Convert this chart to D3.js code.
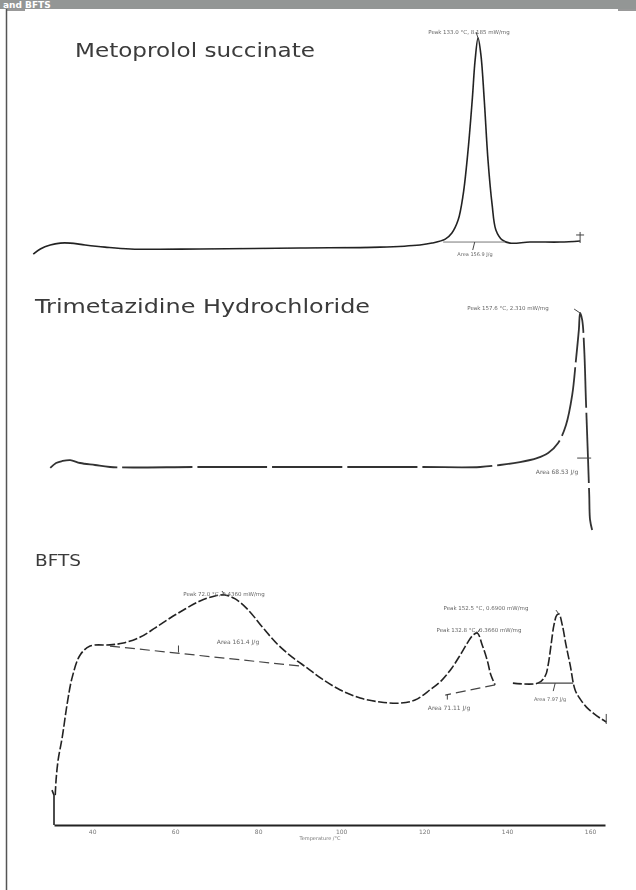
<!DOCTYPE html>
<html>
<head>
<meta charset="utf-8">
<script src="https://cdn.jsdelivr.net/npm/d3@7"></script>
<style>
  body { margin: 0; background: #fff; }
  text { font-family: "DejaVu Sans", sans-serif; }
</style>
</head>
<body>
<div id="chart"></div>
<script>
// Metoprolol succinate trace (temperature degC / heat flow a.u.)
var metoTemp = [25.8, 27.5, 29.9, 32.3, 34.7, 38.3, 43.1, 49.2, 66.0, 90.1, 109.4, 119.0, 121.9, 125.1, 126.7, 128.2, 129.4, 130.6, 131.6, 132.3, 133.0, 133.7, 134.5, 135.4, 136.4, 137.3, 138.8, 140.7, 145.5, 152.8, 157.6];
var metoFlow = [-0.24, 0, 0.19, 0.28, 0.28, 0.19, 0.09, 0, 0, 0.05, 0.09, 0.19, 0.28, 0.47, 0.76, 1.37, 2.56, 4.69, 7.06, 8.96, 10.0, 9.19, 7.06, 4.22, 2.09, 0.9, 0.43, 0.28, 0.33, 0.33, 0.38];

// Trimetazidine hydrochloride trace
var trimTemp = [29.9, 31.3, 32.8, 34.7, 37.1, 40.7, 44.3, 66.0, 90.1, 119.0, 133.5, 138.3, 143.1, 147.2, 149.9, 152.3, 154.2, 155.7, 156.6, 157.3, 157.6, 158.1, 158.6, 159.0, 159.5, 159.8, 160.0, 160.5];
var trimFlow = [-0.06, 0.26, 0.39, 0.45, 0.26, 0.13, 0, 0, 0, 0, 0, 0.13, 0.32, 0.58, 0.91, 1.56, 2.73, 4.68, 6.95, 8.9, 10.0, 9.55, 7.6, 4.35, 0.58, -1.82, -3.44, -4.09];

// BFTS trace, first part (two broad peaks)
var bftsTemp = [31.1, 31.3, 31.8, 32.8, 34.0, 35.2, 37.1, 39.5, 44.3, 47.5, 51.6, 55.2, 58.8, 62.4, 66.0, 69.6, 72.0, 74.5, 77.6, 81.0, 84.6, 88.2, 91.8, 95.4, 99.8, 104.6, 109.4, 114.2, 117.8, 121.4, 124.3, 126.7, 128.7, 130.4, 131.6, 132.8, 134.0, 135.2, 136.1, 137.1];
var bftsFlow = [1.30, 1.96, 2.83, 3.83, 5.30, 6.43, 7.39, 7.78, 7.83, 7.91, 8.17, 8.57, 9.0, 9.39, 9.74, 9.96, 10.0, 9.83, 9.35, 8.61, 7.87, 7.30, 6.83, 6.35, 5.87, 5.52, 5.35, 5.30, 5.43, 5.87, 6.30, 6.83, 7.39, 7.91, 8.22, 8.35, 7.83, 7.17, 6.52, 6.09];
// BFTS trace, second part (sharp peak)
var bftsTemp2 = [141.4, 147.5, 149.2, 149.9, 150.6, 151.3, 152.0, 152.5, 153.3, 154.2, 155.2, 156.4, 157.8, 159.3, 161.0, 162.4, 163.9];
var bftsFlow2 = [6.17, 6.17, 6.48, 6.96, 7.83, 8.70, 9.13, 9.17, 8.70, 7.83, 6.96, 5.87, 5.43, 5.09, 4.83, 4.65, 4.48];

// integration baselines [temp, flow]
var metoBase = [[124.6, 0.33], [139.5, 0.33]];
var bftsBase1 = [[44.3, 7.78], [90.1, 6.91]];
var bftsBase2 = [[137.1, 6.09], [125.1, 5.65]];
var bftsBase3 = [[147.5, 6.17], [155.9, 6.17]];

var tickValues = [40, 60, 80, 100, 120, 140, 160];
var titles = ["Metoprolol succinate", "Trimetazidine Hydrochloride", "BFTS"];

var svg = d3.select("#chart")
  .append("svg")
  .attr("width", 636)
  .attr("height", 890);

// slight blur, the source is a scanned figure
var defs = svg.append("defs");
defs.append("filter").attr("id", "soft")
  .append("feGaussianBlur").attr("stdDeviation", 0.45);

// grey caption bar and frame
svg.append("rect").attr("x", 0).attr("y", 0).attr("width", 636).attr("height", 9).attr("fill", "#939695");
svg.append("text").attr("x", 3).attr("y", 8)
  .attr("font-size", "9px").attr("font-weight", "bold").attr("fill", "#fff")
  .text("and BFTS");
svg.append("line").attr("x1", 6.5).attr("x2", 6.5).attr("y1", 9).attr("y2", 890)
  .attr("stroke", "#555").attr("stroke-width", 1.5);
svg.append("line").attr("x1", 6).attr("x2", 25).attr("y1", 10).attr("y2", 10)
  .attr("stroke", "#555").attr("stroke-width", 1.2);
svg.append("line").attr("x1", 618).attr("x2", 636).attr("y1", 10).attr("y2", 10)
  .attr("stroke", "#555").attr("stroke-width", 1.2);

var g = svg.append("g").attr("filter", "url(#soft)");

// shared temperature scale
var x = d3.scaleLinear()
  .domain([30.8, 163.6])
  .range([54, 605]);

// one heat-flow scale per trace
var y1 = d3.scaleLinear().domain([0, 10]).range([249, 38]);
var y2 = d3.scaleLinear().domain([0, 10]).range([467, 313]);
var y3 = d3.scaleLinear().domain([0, 10]).range([825, 595]);

function lineFor(y) {
  return d3.line()
    .x(function(d) { return x(d[0]); })
    .y(function(d) { return y(d[1]); })
    .curve(d3.curveCatmullRom);
}

// titles
g.append("text").attr("x", 75).attr("y", 57).attr("font-size", "19px").attr("fill", "#3a3a3a")
  .attr("textLength", 240).attr("lengthAdjust", "spacingAndGlyphs").text(titles[0]);
g.append("text").attr("x", 35).attr("y", 313).attr("font-size", "19px").attr("fill", "#3a3a3a")
  .attr("textLength", 335).attr("lengthAdjust", "spacingAndGlyphs").text(titles[1]);
g.append("text").attr("x", 35).attr("y", 566).attr("font-size", "15px").attr("fill", "#3a3a3a")
  .attr("textLength", 46).attr("lengthAdjust", "spacingAndGlyphs").text(titles[2]);

// Metoprolol curve
g.append("path")
  .datum(d3.zip(metoTemp, metoFlow))
  .attr("d", lineFor(y1))
  .attr("fill", "none").attr("stroke", "#222").attr("stroke-width", 1.6);
g.append("path")
  .datum(metoBase)
  .attr("d", lineFor(y1))
  .attr("fill", "none").attr("stroke", "#777").attr("stroke-width", 1);

// Trimetazidine curve
g.append("path")
  .datum(d3.zip(trimTemp, trimFlow))
  .attr("d", lineFor(y2))
  .attr("fill", "none").attr("stroke", "#333").attr("stroke-width", 1.8)
  .attr("stroke-dasharray", "70,5");

// BFTS curves
g.append("path")
  .datum(d3.zip(bftsTemp, bftsFlow))
  .attr("d", lineFor(y3))
  .attr("fill", "none").attr("stroke", "#222").attr("stroke-width", 1.6)
  .attr("stroke-dasharray", "9,2.5");
g.append("path")
  .datum(d3.zip(bftsTemp2, bftsFlow2))
  .attr("d", lineFor(y3))
  .attr("fill", "none").attr("stroke", "#222").attr("stroke-width", 1.6)
  .attr("stroke-dasharray", "9,2.5");
[bftsBase1, bftsBase2, bftsBase3].forEach(function(b, i) {
  g.append("path")
    .datum(b)
    .attr("d", lineFor(y3))
    .attr("fill", "none").attr("stroke", "#444").attr("stroke-width", 1.2)
    .attr("stroke-dasharray", i == 2 ? null : "10,5");
});

// little markers: curve ends and peak ticks
function tick(xv, yv, dx1, dy1, dx2, dy2) {
  g.append("line")
    .attr("x1", xv + dx1).attr("y1", yv + dy1)
    .attr("x2", xv + dx2).attr("y2", yv + dy2)
    .attr("stroke", "#444").attr("stroke-width", 1);
}
tick(x(157.6), y1(0.38), 0, -9, 0, 2);
tick(x(157.6), y1(0.38), -4, -6, 4, -6);
tick(x(133.0), y1(10), -2, -6, 0, 0);
tick(x(132.2), y1(0.33), 0, 0, -2, 8);
tick(x(159.3), y2(0.58), -10, 0, 4, 0);
tick(x(157.6), y2(10), -6, -4, 0, 0);
tick(x(163.9), y3(4.48), 0, -8, 0, 2);
tick(x(72.0), y3(10), -3, -4, 0, 0);
tick(x(132.8), y3(8.35), 3, -4, 0, 0);
tick(x(152.5), y3(9.17), -3, -4, 0, 0);
tick(x(125.6), y3(5.67), 0, 0, 0, 5);
tick(x(60.8), y3(7.5), 0, 0, 0, -7);
tick(x(151.6), y3(6.17), 0, 0, -2, 8);

// stub on the left of BFTS trace
g.append("path")
  .attr("d", "M" + x(30.8) + "," + y3(0) + "V" + y3(1.3) + "l-2,-5")
  .attr("fill", "none").attr("stroke", "#222").attr("stroke-width", 1.6);

// peak / area annotations
var notes = [
  [469, 34, "Peak 133.0 °C, 8.185 mW/mg", 5.5],
  [475, 256, "Area 156.9 J/g", 5],
  [508, 310, "Peak 157.6 °C, 2.310 mW/mg", 5.5],
  [557, 474, "Area 68.53 J/g", 6],
  [224, 596, "Peak 72.0 °C, 0.4360 mW/mg", 5.5],
  [238, 644, "Area 161.4 J/g", 6],
  [486, 610, "Peak 152.5 °C, 0.6900 mW/mg", 5.5],
  [479, 632, "Peak 132.8 °C, 0.3660 mW/mg", 5.5],
  [449, 710, "Area 71.11 J/g", 6],
  [550, 701, "Area 7.97 J/g", 5]
];
g.selectAll(".note")
  .data(notes)
  .enter()
  .append("text")
  .attr("class", "note")
  .attr("x", function(d) { return d[0]; })
  .attr("y", function(d) { return d[1]; })
  .attr("text-anchor", "middle")
  .attr("font-size", function(d) { return d[3] + "px"; })
  .attr("fill", "#666")
  .text(function(d) { return d[2]; });

// temperature axis
var xAxis = g.append("g")
  .attr("transform", "translate(0,825)")
  .call(d3.axisBottom(x).tickValues(tickValues).tickSize(0).tickPadding(5));
xAxis.select(".domain").attr("stroke", "#222").attr("stroke-width", 2.2);
xAxis.selectAll("text").attr("font-size", "6px").attr("fill", "#777");

g.append("text")
  .attr("text-anchor", "middle")
  .attr("x", 320)
  .attr("y", 840)
  .attr("font-size", "5px")
  .attr("fill", "#777")
  .text("Temperature /°C");
</script>
</body>
</html>
